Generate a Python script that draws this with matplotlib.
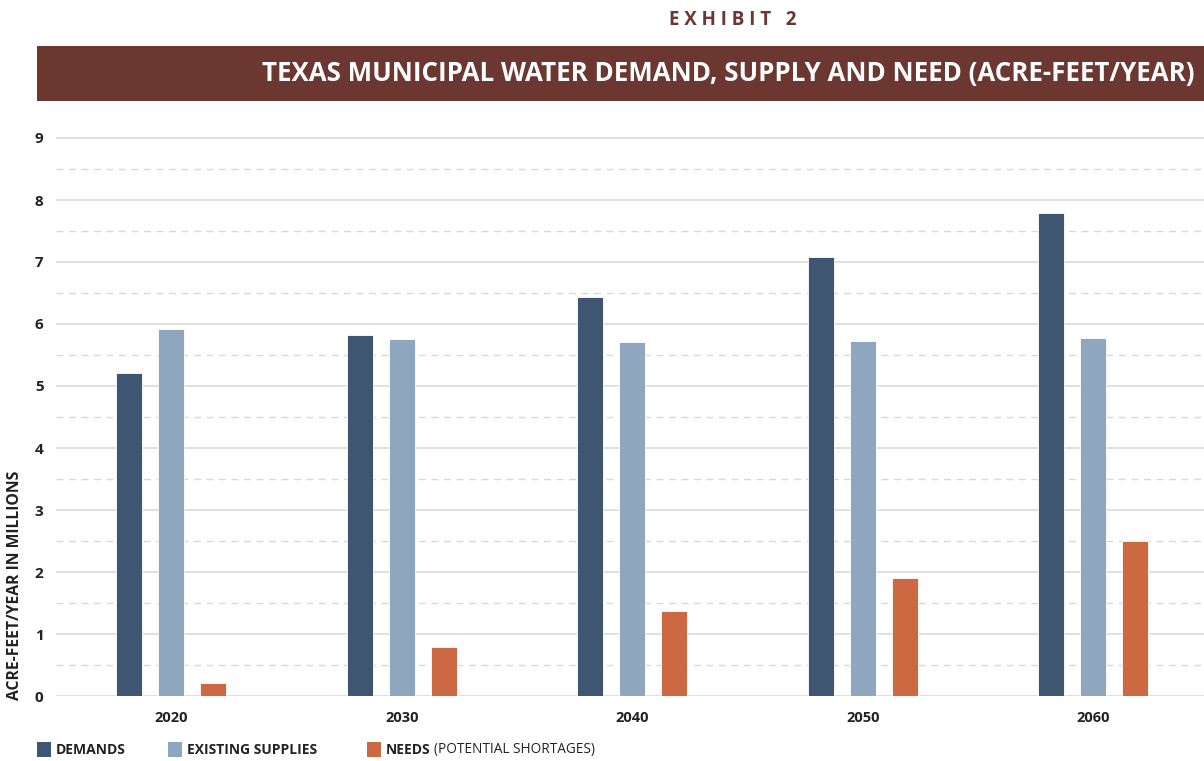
import matplotlib
matplotlib.use("Agg")
import matplotlib.pyplot as plt
import numpy as np
from matplotlib.patches import Rectangle

years = ["2020", "2030", "2040", "2050", "2060"]
demands = [5.21, 5.82, 6.44, 7.08, 7.79]
supplies = [5.92, 5.76, 5.71, 5.73, 5.77]
needs = [0.21, 0.79, 1.37, 1.90, 2.50]
series_names = ["DEMANDS", "EXISTING SUPPLIES", "NEEDS"]
colors = ["#3F5672", "#8EA7BE", "#CD6942"]
yticks = list(range(0, 10))

plt.rcParams['font.family'] = ['Open Sans', 'DejaVu Sans']

fig = plt.figure(figsize=(12.04, 7.61), dpi=100)
ax = fig.add_axes([56/1204, 1-696/761, 1-56/1204, (696-125.6)/761])

x = np.arange(len(years))
w = 0.113
off = 0.182
for i, (vals, c) in enumerate(zip([demands, supplies, needs], colors)):
    ax.bar(x + (i-1)*off, vals, w, color=c, edgecolor='white', linewidth=0.6, zorder=3)

ax.set_xlim(-0.5, 4.48)
ax.set_ylim(0, 9.2)
ax.set_yticks(yticks)
ax.set_yticklabels([str(t) for t in yticks], fontsize=11, fontweight='bold', color='#222222')
ax.set_xticks(x)
ax.set_xticklabels(years, fontsize=10.5, fontweight='bold', color='#222222')
ax.tick_params(axis='both', length=0)
ax.tick_params(axis='y', pad=9)
ax.tick_params(axis='x', pad=11)
for s in ax.spines.values():
    s.set_visible(False)
for t in yticks:
    ax.axhline(t, color='#d9d9d9', lw=1.2, zorder=1)
for t in np.arange(0.5, 9, 1):
    ax.axhline(t, color='#d9d9d9', lw=1.0, ls=(0, (5, 4)), zorder=1)

fig.text(15/1204, 1-585/761, "ACRE-FEET/YEAR IN MILLIONS", rotation=90, ha='center', va='center',
         fontsize=11.3, fontweight='bold', color='#222222')

# Header
fig.patches.append(Rectangle((37/1204, 1-101/761), 1-37/1204, 55/761, transform=fig.transFigure,
                             facecolor='#6B3730', edgecolor='none'))
fig.text(1195/1204, 1-74/761, "TEXAS MUNICIPAL WATER DEMAND, SUPPLY AND NEED (ACRE-FEET/YEAR)",
         ha='right', va='center', fontsize=18.6, fontweight='bold', color='white')
fig.text(733/1204, 1-20/761, "E X H I B I T   2", ha='center', va='center', fontsize=13.5,
         fontweight='bold', color='#6B3730')

# Legend
leg_x = [37, 168, 367]
for lx, name, c in zip(leg_x, series_names, colors):
    fig.patches.append(Rectangle((lx/1204, 1-757/761), 14/1204, 15/761, transform=fig.transFigure,
                                 facecolor=c, edgecolor='none'))
    t = fig.text((lx+19)/1204, 1-750/761, name, ha='left', va='center', fontsize=10,
                 fontweight='bold', color='#222222')
fig.canvas.draw()
bb = t.get_window_extent()
fig.text(bb.x1/1204 + 3/1204, 1-750/761, "(POTENTIAL SHORTAGES)", ha='left', va='center',
         fontsize=9.8, color='#222222')

fig.savefig("out.png", dpi=100)
